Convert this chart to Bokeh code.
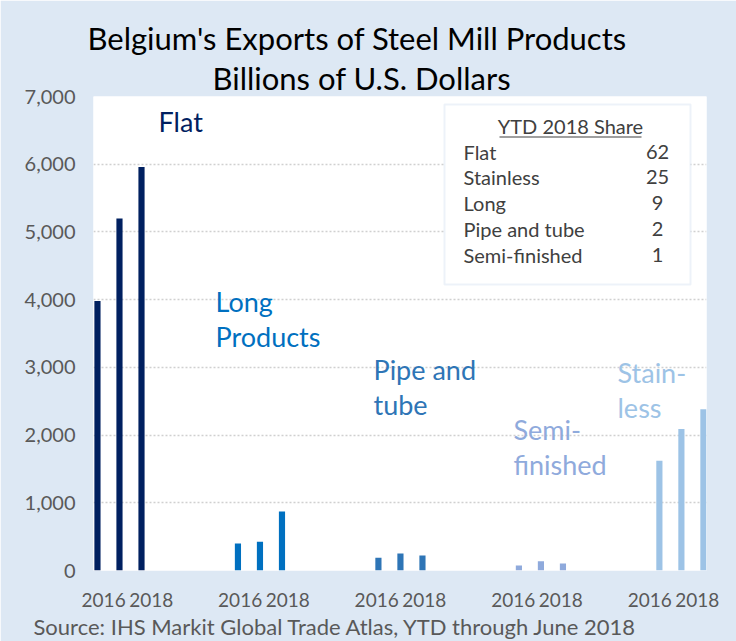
from bokeh.plotting import figure
from bokeh.models import (Range1d, FixedTicker, NumeralTickFormatter, CustomJSTickFormatter,
                          Label, BoxAnnotation, Title)
from bokeh.embed import file_html
from bokeh.resources import INLINE

# ---- data ----
groups = ["Flat", "Long Products", "Pipe and tube", "Semi-finished", "Stainless"]
group_labels = [["Flat"], ["Long", "Products"], ["Pipe and", "tube"], ["Semi-", "finished"], ["Stain-", "less"]]
years = ["2016", "2017", "2018"]
flat = [3980, 5200, 5960]
long_products = [400, 425, 870]
pipe_tube = [190, 250, 220]
semi_finished = [75, 135, 105]
stainless = [1620, 2090, 2380]
tick_years = ["2016", "2018"]
share_names = ["Flat", "Stainless", "Long", "Pipe and tube", "Semi-finished"]
share_values = [62, 25, 9, 2, 1]
y_ticks = [0, 1000, 2000, 3000, 4000, 5000, 6000, 7000]
title_lines = ["Belgium's Exports of Steel Mill Products", "Billions of U.S. Dollars"]
source_text = "Source: IHS Markit Global Trade Atlas, YTD through June 2018"

series = [flat, long_products, pipe_tube, semi_finished, stainless]
colors = ["#002060", "#0070c0", "#2e75b6", "#8faadc", "#9dc3e6"]

FONT = "Lato"
BG = "#dde8f4"
GROUP_STEP = 6.38
LABEL_STEP = 6.2

p = figure(width=736, height=641, output_backend="svg", toolbar_location=None,
           x_range=Range1d(-0.18, 4 * GROUP_STEP + 2.14), y_range=Range1d(0, 7000),
           min_border_left=93, min_border_right=30, min_border_top=96, min_border_bottom=71,
           border_fill_color=BG, background_fill_color="white", outline_line_color=None)

for gi, vals in enumerate(series):
    xs = [gi * GROUP_STEP + j for j in range(len(years))]
    p.vbar(x=xs, top=vals, width=0.28, bottom=0, color=colors[gi], line_color=None)

# titles
p.title.text = title_lines[0]
p.title.align = "left"
p.title.offset = -6
p.title.standoff = 0
p.title.text_font = FONT
p.title.text_font_size = "31px"
p.title.text_font_style = "normal"
p.title.text_color = "#000000"
p.add_layout(Title(text=title_lines[1], align="left", offset=119, standoff=0,
                   text_font=FONT, text_font_size="31px", text_font_style="normal",
                   text_color="#000000"), "above")

# axes
p.xgrid.grid_line_color = None
p.ygrid.ticker = FixedTicker(ticks=y_ticks)
p.ygrid.grid_line_color = "#d0d0d0"
p.ygrid.grid_line_dash = "2 2"
p.ygrid.grid_line_width = 1.5

p.yaxis.ticker = FixedTicker(ticks=y_ticks)
p.yaxis.formatter = NumeralTickFormatter(format="0,0")
p.yaxis.axis_line_color = None
p.yaxis.major_tick_line_color = None
p.yaxis.minor_tick_line_color = None
p.yaxis.major_label_text_font = FONT
p.yaxis.major_label_text_font_size = "20px"
p.yaxis.major_label_text_color = "#595959"
p.yaxis.major_label_standoff = 12

mid = 2 * GROUP_STEP + 1
xticks = []
for gi in range(len(groups)):
    c = mid + (gi - 2) * LABEL_STEP
    xticks += [c - 1.08, c + 1.08]
p.xaxis.ticker = FixedTicker(ticks=xticks)
p.xaxis.formatter = CustomJSTickFormatter(args=dict(labels=tick_years),
                                          code="return labels[index % 2];")
p.xaxis.axis_line_color = None
p.xaxis.major_tick_line_color = None
p.xaxis.minor_tick_line_color = None
p.xaxis.major_label_text_font = FONT
p.xaxis.major_label_text_font_size = "19px"
p.xaxis.major_label_text_color = "#595959"
p.xaxis.major_label_standoff = 16

p.add_layout(Title(text=source_text, align="left", offset=-60, standoff=3,
                   text_font=FONT, text_font_size="22px", text_font_style="normal",
                   text_color="#595959"), "below")

# screen coordinates relative to frame bottom-left
def lab(text, sx, sy, size, color, align="left"):
    p.add_layout(Label(x=sx, y=sy, x_units="screen", y_units="screen", text=text,
                       text_font=FONT, text_font_size=size, text_color=color,
                       text_align=align, text_baseline="alphabetic"))

# category annotations
ann_pos = [(65, 449), (122, 269), (280, 201), (420, 141), (524, 198)]
for gi, lines in enumerate(group_labels):
    sx, sy = ann_pos[gi]
    for li, t in enumerate(lines):
        lab(t, sx, sy - li * 35, "27px", colors[gi])

# share box
p.add_layout(BoxAnnotation(left=351, right=597, bottom=286, top=466,
                           left_units="screen", right_units="screen",
                           bottom_units="screen", top_units="screen",
                           fill_color="white", fill_alpha=1,
                           line_color="#c5d5ea", line_width=2))
lab("YTD 2018 Share", 477, 445, "20px", "#404040", "center")
p.add_layout(BoxAnnotation(left=406, right=548, bottom=433, top=434,
                           left_units="screen", right_units="screen",
                           bottom_units="screen", top_units="screen",
                           fill_color="#404040", fill_alpha=1, line_color=None))
for i, (n, v) in enumerate(zip(share_names, share_values)):
    lab(n, 370, 419 - i * 25.8, "20px", "#404040")
    lab(str(v), 564, 419 - i * 25.8, "20px", "#404040", "center")

open("out.html", "w").write(file_html(p, INLINE))
